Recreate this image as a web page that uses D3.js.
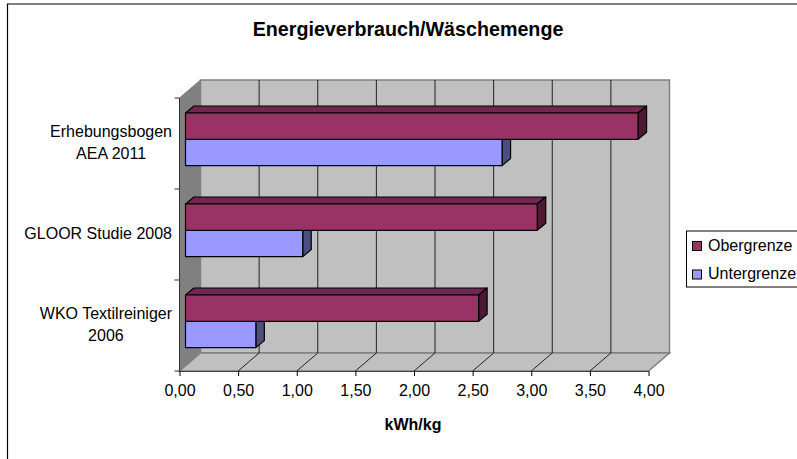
<!DOCTYPE html>
<html><head><meta charset="utf-8">
<script src="https://cdn.jsdelivr.net/npm/d3@7"></script>
<style>html,body{margin:0;padding:0;background:#fff;overflow:hidden}svg{display:block}text{font-family:"Liberation Sans",Arial,sans-serif;fill:#000}</style>
</head><body><svg id="c" width="797" height="459"></svg>
<script>
const categories = ["Erhebungsbogen\nAEA 2011","GLOOR Studie 2008","WKO Textilreiniger\n2006"];
const obergrenze = [3.86,3.0,2.5];
const untergrenze = [2.7,1.0,0.6];
const seriesNames = ["Obergrenze","Untergrenze"];
const xTicks = [0,0.5,1,1.5,2,2.5,3,3.5,4];
const title = "Energieverbrauch/Wäschemenge";
const xTitle = "kWh/kg";

const svg = d3.select("#c");
const x = d3.scaleLinear().domain([0,4]).range([179.5,648.5]);
const y = d3.scaleBand().domain(categories).range([98,371]);
const depth = {dx:21,dy:-18};
const barDepth = {dx:8.5,dy:-7};
const barOff = 6, barTop = 15, barH = 26.3;
const colors = {Obergrenze:{f:"#993366",t:"#732650",s:"#4d1a33"},Untergrenze:{f:"#9999ff",t:"#7373bf",s:"#4d4d80"}};
const poly = pts => pts.map(p=>p.join(",")).join(" ");
const fs = 16;
const labelRight = 172;

svg.append("path").attr("fill","none").attr("stroke","#000").attr("stroke-width",1.2).attr("d","M7.5,470V4H810");

const [x0,x1]=x.range(); const [y0,y1]=y.range();
// walls
svg.append("polygon").attr("points",poly([[x0+depth.dx,y0+depth.dy],[x1+depth.dx,y0+depth.dy],[x1+depth.dx,y1+depth.dy],[x0+depth.dx,y1+depth.dy]])).attr("fill","#c0c0c0").attr("stroke","#808080").attr("stroke-width",1.5);
svg.append("polygon").attr("points",poly([[x0,y0],[x0+depth.dx,y0+depth.dy],[x0+depth.dx,y1+depth.dy],[x0,y1]])).attr("fill","#808080").attr("stroke","#808080");
svg.append("polygon").attr("points",poly([[x0,y1],[x0+depth.dx,y1+depth.dy],[x1+depth.dx,y1+depth.dy],[x1,y1]])).attr("fill","#c0c0c0").attr("stroke","#808080").attr("stroke-width",1.5);
// gridlines
xTicks.slice(1,-1).forEach(t=>{
  svg.append("path").attr("fill","none").attr("stroke","#222")
   .attr("d",`M${x(t)},${y1}L${x(t)+depth.dx},${y1+depth.dy}V${y0+depth.dy}`);
});
// bars
function bar(v,top,c){
  const l=x(0)+barOff, r=x(v)+barOff, b=top+barH, d=barDepth;
  const g=svg.append("g").attr("stroke","#000").attr("stroke-width",1.2).attr("stroke-linejoin","round");
  g.append("polygon").attr("points",poly([[l,top],[l+d.dx,top+d.dy],[r+d.dx,top+d.dy],[r,top]])).attr("fill",c.t);
  g.append("polygon").attr("points",poly([[r,top],[r+d.dx,top+d.dy],[r+d.dx,b+d.dy],[r,b]])).attr("fill",c.s);
  g.append("rect").attr("x",l).attr("y",top).attr("width",r-l).attr("height",barH).attr("fill",c.f);
}
categories.forEach((cat,i)=>{
  const t=y(cat)+barTop;
  bar(untergrenze[i],t+barH,colors.Untergrenze);
  bar(obergrenze[i],t,colors.Obergrenze);
});
// axes
const xa=svg.append("g").attr("transform",`translate(0,${y1})`);
xa.call(d3.axisBottom(x).tickValues(xTicks).tickSize(5).tickFormat(d=>d3.format(".2f")(d).replace(".",",")));
xa.select(".domain").attr("stroke","#444").attr("d",`M${x0},0.5H${x1}`);
xa.selectAll("text").attr("dy",null).attr("y",25).style("font-size",fs+"px").style("font-family",'"Liberation Sans",Arial,sans-serif');
const ya=svg.append("g");
ya.append("line").attr("x1",x0).attr("x2",x0).attr("y1",y0).attr("y2",y1).attr("stroke","#333");
[...categories.map(c=>y(c)),y1].forEach(p=>ya.append("line").attr("x1",x0-5).attr("x2",x0).attr("y1",p).attr("y2",p).attr("stroke","#333"));
categories.forEach(c=>{
  const ls=c.split("\n"), cy=y(c)+y.bandwidth()/2;
  const t=svg.append("text").attr("text-anchor","middle").attr("font-size",fs);
  const spans=ls.map((l,j)=>t.append("tspan").attr("y",cy+4.5+(j-(ls.length-1)/2)*22).text(l));
  const w=Math.max(...spans.map(s=>s.node().getComputedTextLength()));
  spans.forEach(s=>s.attr("x",labelRight-w/2));
});
svg.append("text").attr("x",408).attr("y",35.5).attr("text-anchor","middle").attr("font-size",19.7).attr("font-weight","bold").text(title);
svg.append("text").attr("x",413).attr("y",429.5).attr("text-anchor","middle").attr("font-size",16).attr("font-weight","bold").text(xTitle);
// legend
svg.append("rect").attr("x",686.5).attr("y",231).attr("width",120).attr("height",56).attr("fill","#fff").attr("stroke","#000");
seriesNames.forEach((n,i)=>{
  const ly=241.5+i*28.5;
  svg.append("rect").attr("x",692.5).attr("y",ly).attr("width",9).attr("height",9).attr("fill",colors[n].f).attr("stroke","#000");
  svg.append("text").attr("x",708).attr("y",ly+9).attr("font-size",fs).text(n);
});
</script></body></html>
